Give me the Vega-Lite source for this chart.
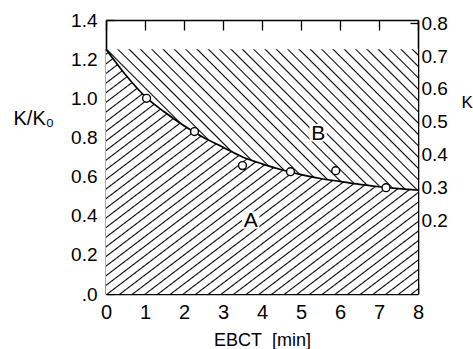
{
  "$schema": "https://vega.github.io/schema/vega-lite/v6.json",
  "width": 312,
  "height": 274,
  "autosize": {"type": "none"},
  "padding": {"left": 106, "top": 20, "right": 55, "bottom": 55},
  "background": "white",
  "config": {
    "view": {"stroke": null},
    "axis": {
      "grid": false,
      "domainColor": "black",
      "domainWidth": 1.6,
      "tickColor": "black",
      "tickWidth": 1.3,
      "labelColor": "black",
      "titleColor": "black",
      "labelFont": "Liberation Sans",
      "titleFont": "Liberation Sans",
      "labelFontSize": 19,
      "titleFontSize": 18,
      "titleFontWeight": "normal",
      "zindex": 1
    }
  },
  "datasets": {
    "curve": [
      {"t": 0, "k": 1.25}, {"t": 0.5, "k": 1.12}, {"t": 1, "k": 1.01}, {"t": 1.5, "k": 0.93},
      {"t": 2, "k": 0.86}, {"t": 2.5, "k": 0.8}, {"t": 3, "k": 0.75}, {"t": 3.5, "k": 0.7},
      {"t": 4, "k": 0.665}, {"t": 4.5, "k": 0.635}, {"t": 5, "k": 0.61}, {"t": 5.5, "k": 0.59},
      {"t": 6, "k": 0.575}, {"t": 6.5, "k": 0.56}, {"t": 7, "k": 0.548}, {"t": 7.5, "k": 0.538},
      {"t": 8, "k": 0.53}
    ],
    "pts": [
      {"t": 1.04, "k": 1.0}, {"t": 2.27, "k": 0.83}, {"t": 3.5, "k": 0.656},
      {"t": 4.73, "k": 0.625}, {"t": 5.89, "k": 0.63}, {"t": 7.18, "k": 0.543}
    ],
    "labels": [
      {"t": 3.71, "k": 0.378, "label": "A"},
      {"t": 5.44, "k": 0.824, "label": "B"}
    ]
  },
  "resolve": {"scale": {"x": "independent", "y": "independent"}, "axis": {"x": "independent", "y": "independent"}},
  "layer": [
    {
      "data": {"name": "curve"},
      "mark": {
        "type": "area",
        "interpolate": "monotone",
        "stroke": null,
        "fill": {
          "gradient": "linear", "x1": 0, "y1": 0, "x2": 0.984, "y2": 1.015,
          "stops": [
            {"offset":0.0072,"color":"#fff"},{"offset":0.01,"color":"#000"},{"offset":0.0128,"color":"#fff"},
            {"offset":0.0272,"color":"#fff"},{"offset":0.03,"color":"#000"},{"offset":0.0328,"color":"#fff"},
            {"offset":0.0472,"color":"#fff"},{"offset":0.05,"color":"#000"},{"offset":0.0528,"color":"#fff"},
            {"offset":0.0672,"color":"#fff"},{"offset":0.07,"color":"#000"},{"offset":0.0728,"color":"#fff"},
            {"offset":0.0872,"color":"#fff"},{"offset":0.09,"color":"#000"},{"offset":0.0928,"color":"#fff"},
            {"offset":0.1072,"color":"#fff"},{"offset":0.11,"color":"#000"},{"offset":0.1128,"color":"#fff"},
            {"offset":0.1272,"color":"#fff"},{"offset":0.13,"color":"#000"},{"offset":0.1328,"color":"#fff"},
            {"offset":0.1472,"color":"#fff"},{"offset":0.15,"color":"#000"},{"offset":0.1528,"color":"#fff"},
            {"offset":0.1672,"color":"#fff"},{"offset":0.17,"color":"#000"},{"offset":0.1728,"color":"#fff"},
            {"offset":0.1872,"color":"#fff"},{"offset":0.19,"color":"#000"},{"offset":0.1928,"color":"#fff"},
            {"offset":0.2072,"color":"#fff"},{"offset":0.21,"color":"#000"},{"offset":0.2128,"color":"#fff"},
            {"offset":0.2272,"color":"#fff"},{"offset":0.23,"color":"#000"},{"offset":0.2328,"color":"#fff"},
            {"offset":0.2472,"color":"#fff"},{"offset":0.25,"color":"#000"},{"offset":0.2528,"color":"#fff"},
            {"offset":0.2672,"color":"#fff"},{"offset":0.27,"color":"#000"},{"offset":0.2728,"color":"#fff"},
            {"offset":0.2872,"color":"#fff"},{"offset":0.29,"color":"#000"},{"offset":0.2928,"color":"#fff"},
            {"offset":0.3072,"color":"#fff"},{"offset":0.31,"color":"#000"},{"offset":0.3128,"color":"#fff"},
            {"offset":0.3272,"color":"#fff"},{"offset":0.33,"color":"#000"},{"offset":0.3328,"color":"#fff"},
            {"offset":0.3472,"color":"#fff"},{"offset":0.35,"color":"#000"},{"offset":0.3528,"color":"#fff"},
            {"offset":0.3672,"color":"#fff"},{"offset":0.37,"color":"#000"},{"offset":0.3728,"color":"#fff"},
            {"offset":0.3872,"color":"#fff"},{"offset":0.39,"color":"#000"},{"offset":0.3928,"color":"#fff"},
            {"offset":0.4072,"color":"#fff"},{"offset":0.41,"color":"#000"},{"offset":0.4128,"color":"#fff"},
            {"offset":0.4272,"color":"#fff"},{"offset":0.43,"color":"#000"},{"offset":0.4328,"color":"#fff"},
            {"offset":0.4472,"color":"#fff"},{"offset":0.45,"color":"#000"},{"offset":0.4528,"color":"#fff"},
            {"offset":0.4672,"color":"#fff"},{"offset":0.47,"color":"#000"},{"offset":0.4728,"color":"#fff"},
            {"offset":0.4872,"color":"#fff"},{"offset":0.49,"color":"#000"},{"offset":0.4928,"color":"#fff"},
            {"offset":0.5072,"color":"#fff"},{"offset":0.51,"color":"#000"},{"offset":0.5128,"color":"#fff"},
            {"offset":0.5272,"color":"#fff"},{"offset":0.53,"color":"#000"},{"offset":0.5328,"color":"#fff"},
            {"offset":0.5472,"color":"#fff"},{"offset":0.55,"color":"#000"},{"offset":0.5528,"color":"#fff"},
            {"offset":0.5672,"color":"#fff"},{"offset":0.57,"color":"#000"},{"offset":0.5728,"color":"#fff"},
            {"offset":0.5872,"color":"#fff"},{"offset":0.59,"color":"#000"},{"offset":0.5928,"color":"#fff"},
            {"offset":0.6072,"color":"#fff"},{"offset":0.61,"color":"#000"},{"offset":0.6128,"color":"#fff"},
            {"offset":0.6272,"color":"#fff"},{"offset":0.63,"color":"#000"},{"offset":0.6328,"color":"#fff"},
            {"offset":0.6472,"color":"#fff"},{"offset":0.65,"color":"#000"},{"offset":0.6528,"color":"#fff"},
            {"offset":0.6672,"color":"#fff"},{"offset":0.67,"color":"#000"},{"offset":0.6728,"color":"#fff"},
            {"offset":0.6872,"color":"#fff"},{"offset":0.69,"color":"#000"},{"offset":0.6928,"color":"#fff"},
            {"offset":0.7072,"color":"#fff"},{"offset":0.71,"color":"#000"},{"offset":0.7128,"color":"#fff"},
            {"offset":0.7272,"color":"#fff"},{"offset":0.73,"color":"#000"},{"offset":0.7328,"color":"#fff"},
            {"offset":0.7472,"color":"#fff"},{"offset":0.75,"color":"#000"},{"offset":0.7528,"color":"#fff"},
            {"offset":0.7672,"color":"#fff"},{"offset":0.77,"color":"#000"},{"offset":0.7728,"color":"#fff"},
            {"offset":0.7872,"color":"#fff"},{"offset":0.79,"color":"#000"},{"offset":0.7928,"color":"#fff"},
            {"offset":0.8072,"color":"#fff"},{"offset":0.81,"color":"#000"},{"offset":0.8128,"color":"#fff"},
            {"offset":0.8272,"color":"#fff"},{"offset":0.83,"color":"#000"},{"offset":0.8328,"color":"#fff"},
            {"offset":0.8472,"color":"#fff"},{"offset":0.85,"color":"#000"},{"offset":0.8528,"color":"#fff"},
            {"offset":0.8672,"color":"#fff"},{"offset":0.87,"color":"#000"},{"offset":0.8728,"color":"#fff"},
            {"offset":0.8872,"color":"#fff"},{"offset":0.89,"color":"#000"},{"offset":0.8928,"color":"#fff"},
            {"offset":0.9072,"color":"#fff"},{"offset":0.91,"color":"#000"},{"offset":0.9128,"color":"#fff"},
            {"offset":0.9272,"color":"#fff"},{"offset":0.93,"color":"#000"},{"offset":0.9328,"color":"#fff"},
            {"offset":0.9472,"color":"#fff"},{"offset":0.95,"color":"#000"},{"offset":0.9528,"color":"#fff"},
            {"offset":0.9672,"color":"#fff"},{"offset":0.97,"color":"#000"},{"offset":0.9728,"color":"#fff"},
            {"offset":0.9872,"color":"#fff"},{"offset":0.99,"color":"#000"},{"offset":0.9928,"color":"#fff"}
          ]
        }
      },
      "encoding": {
        "x": {"field": "t", "type": "quantitative", "scale": {"domain": [0, 8], "nice": false, "zero": false},
          "axis": {"orient": "bottom", "values": [0,1,2,3,4,5,6,7,8], "tickSize": -10, "labelPadding": 18, "labelFontSize": 20, "labelFlush": false, "title": "EBCT\u00a0\u00a0[min]", "titlePadding": 9, "titleFontSize": 18}},
        "y": {"field": "k", "type": "quantitative", "scale": {"domain": [0, 1.4], "nice": false, "zero": false},
          "axis": {"orient": "left", "values": [0,0.2,0.4,0.6,0.8,1.0,1.2,1.4], "tickSize": -8, "labelPadding": 17, "labelFlush": false,
            "labelExpr": "datum.value == 0 ? '.0' : format(datum.value, '.1f')",
            "title": "K/K₀", "titleFontSize": 20, "titleAngle": 0, "titleX": -93, "titleY": 98, "titleAlign": "left", "titleBaseline": "middle"}},
        "y2": {"datum": 0}
      }
    },
    {
      "data": {"name": "curve"},
      "mark": {
        "type": "area",
        "interpolate": "monotone",
        "stroke": null,
        "fill": {
          "gradient": "linear", "x1": 0, "y1": 1, "x2": 1.206, "y2": 0.455,
          "stops": [
            {"offset":0.0092,"color":"#fff"},{"offset":0.0125,"color":"#000"},{"offset":0.0158,"color":"#fff"},
            {"offset":0.0342,"color":"#fff"},{"offset":0.0375,"color":"#000"},{"offset":0.0408,"color":"#fff"},
            {"offset":0.0592,"color":"#fff"},{"offset":0.0625,"color":"#000"},{"offset":0.0658,"color":"#fff"},
            {"offset":0.0842,"color":"#fff"},{"offset":0.0875,"color":"#000"},{"offset":0.0908,"color":"#fff"},
            {"offset":0.1092,"color":"#fff"},{"offset":0.1125,"color":"#000"},{"offset":0.1158,"color":"#fff"},
            {"offset":0.1342,"color":"#fff"},{"offset":0.1375,"color":"#000"},{"offset":0.1408,"color":"#fff"},
            {"offset":0.1592,"color":"#fff"},{"offset":0.1625,"color":"#000"},{"offset":0.1658,"color":"#fff"},
            {"offset":0.1842,"color":"#fff"},{"offset":0.1875,"color":"#000"},{"offset":0.1908,"color":"#fff"},
            {"offset":0.2092,"color":"#fff"},{"offset":0.2125,"color":"#000"},{"offset":0.2158,"color":"#fff"},
            {"offset":0.2342,"color":"#fff"},{"offset":0.2375,"color":"#000"},{"offset":0.2408,"color":"#fff"},
            {"offset":0.2592,"color":"#fff"},{"offset":0.2625,"color":"#000"},{"offset":0.2658,"color":"#fff"},
            {"offset":0.2842,"color":"#fff"},{"offset":0.2875,"color":"#000"},{"offset":0.2908,"color":"#fff"},
            {"offset":0.3092,"color":"#fff"},{"offset":0.3125,"color":"#000"},{"offset":0.3158,"color":"#fff"},
            {"offset":0.3342,"color":"#fff"},{"offset":0.3375,"color":"#000"},{"offset":0.3408,"color":"#fff"},
            {"offset":0.3592,"color":"#fff"},{"offset":0.3625,"color":"#000"},{"offset":0.3658,"color":"#fff"},
            {"offset":0.3842,"color":"#fff"},{"offset":0.3875,"color":"#000"},{"offset":0.3908,"color":"#fff"},
            {"offset":0.4092,"color":"#fff"},{"offset":0.4125,"color":"#000"},{"offset":0.4158,"color":"#fff"},
            {"offset":0.4342,"color":"#fff"},{"offset":0.4375,"color":"#000"},{"offset":0.4408,"color":"#fff"},
            {"offset":0.4592,"color":"#fff"},{"offset":0.4625,"color":"#000"},{"offset":0.4658,"color":"#fff"},
            {"offset":0.4842,"color":"#fff"},{"offset":0.4875,"color":"#000"},{"offset":0.4908,"color":"#fff"},
            {"offset":0.5092,"color":"#fff"},{"offset":0.5125,"color":"#000"},{"offset":0.5158,"color":"#fff"},
            {"offset":0.5342,"color":"#fff"},{"offset":0.5375,"color":"#000"},{"offset":0.5408,"color":"#fff"},
            {"offset":0.5592,"color":"#fff"},{"offset":0.5625,"color":"#000"},{"offset":0.5658,"color":"#fff"},
            {"offset":0.5842,"color":"#fff"},{"offset":0.5875,"color":"#000"},{"offset":0.5908,"color":"#fff"},
            {"offset":0.6092,"color":"#fff"},{"offset":0.6125,"color":"#000"},{"offset":0.6158,"color":"#fff"},
            {"offset":0.6342,"color":"#fff"},{"offset":0.6375,"color":"#000"},{"offset":0.6408,"color":"#fff"},
            {"offset":0.6592,"color":"#fff"},{"offset":0.6625,"color":"#000"},{"offset":0.6658,"color":"#fff"},
            {"offset":0.6842,"color":"#fff"},{"offset":0.6875,"color":"#000"},{"offset":0.6908,"color":"#fff"},
            {"offset":0.7092,"color":"#fff"},{"offset":0.7125,"color":"#000"},{"offset":0.7158,"color":"#fff"},
            {"offset":0.7342,"color":"#fff"},{"offset":0.7375,"color":"#000"},{"offset":0.7408,"color":"#fff"},
            {"offset":0.7592,"color":"#fff"},{"offset":0.7625,"color":"#000"},{"offset":0.7658,"color":"#fff"},
            {"offset":0.7842,"color":"#fff"},{"offset":0.7875,"color":"#000"},{"offset":0.7908,"color":"#fff"},
            {"offset":0.8092,"color":"#fff"},{"offset":0.8125,"color":"#000"},{"offset":0.8158,"color":"#fff"},
            {"offset":0.8342,"color":"#fff"},{"offset":0.8375,"color":"#000"},{"offset":0.8408,"color":"#fff"},
            {"offset":0.8592,"color":"#fff"},{"offset":0.8625,"color":"#000"},{"offset":0.8658,"color":"#fff"},
            {"offset":0.8842,"color":"#fff"},{"offset":0.8875,"color":"#000"},{"offset":0.8908,"color":"#fff"},
            {"offset":0.9092,"color":"#fff"},{"offset":0.9125,"color":"#000"},{"offset":0.9158,"color":"#fff"},
            {"offset":0.9342,"color":"#fff"},{"offset":0.9375,"color":"#000"},{"offset":0.9408,"color":"#fff"},
            {"offset":0.9592,"color":"#fff"},{"offset":0.9625,"color":"#000"},{"offset":0.9658,"color":"#fff"},
            {"offset":0.9842,"color":"#fff"},{"offset":0.9875,"color":"#000"},{"offset":0.9908,"color":"#fff"}
          ]
        }
      },
      "encoding": {
        "x": {"field": "t", "type": "quantitative", "scale": {"domain": [0, 8], "nice": false, "zero": false}, "axis": null},
        "y": {"field": "k", "type": "quantitative", "scale": {"domain": [0, 1.4], "nice": false, "zero": false}, "axis": null},
        "y2": {"datum": 1.25}
      }
    },
    {
      "mark": {"type": "rule", "color": "black", "strokeWidth": 1.5, "strokeDash": [12, 6]},
      "encoding": {
        "y": {"datum": 1.25, "type": "quantitative", "scale": {"domain": [0, 1.4], "nice": false, "zero": false}, "axis": null}
      }
    },
    {
      "data": {"name": "curve"},
      "mark": {"type": "line", "interpolate": "monotone", "color": "black", "strokeWidth": 1.7},
      "encoding": {
        "x": {"field": "t", "type": "quantitative", "scale": {"domain": [0, 8], "nice": false, "zero": false}, "axis": null},
        "y": {"field": "k", "type": "quantitative", "scale": {"domain": [0, 1.4], "nice": false, "zero": false}, "axis": null}
      }
    },
    {
      "data": {"name": "pts"},
      "mark": {"type": "point", "shape": "circle", "filled": true, "fill": "white", "stroke": "black", "strokeWidth": 1.4, "size": 62, "opacity": 1},
      "encoding": {
        "x": {"field": "t", "type": "quantitative", "scale": {"domain": [0, 8], "nice": false, "zero": false}, "axis": null},
        "y": {"field": "k", "type": "quantitative", "scale": {"domain": [0, 1.4], "nice": false, "zero": false}, "axis": null}
      }
    },
    {
      "data": {"name": "labels"},
      "mark": {"type": "point", "shape": "square", "filled": true, "color": "white", "size": 300, "opacity": 1},
      "encoding": {
        "x": {"field": "t", "type": "quantitative", "scale": {"domain": [0, 8], "nice": false, "zero": false}, "axis": null},
        "y": {"field": "k", "type": "quantitative", "scale": {"domain": [0, 1.4], "nice": false, "zero": false}, "axis": null}
      }
    },
    {
      "data": {"name": "labels"},
      "mark": {"type": "text", "font": "Liberation Sans", "fontSize": 21, "color": "black", "baseline": "middle", "align": "center", "dy": 1},
      "encoding": {
        "x": {"field": "t", "type": "quantitative", "scale": {"domain": [0, 8], "nice": false, "zero": false}, "axis": null},
        "y": {"field": "k", "type": "quantitative", "scale": {"domain": [0, 1.4], "nice": false, "zero": false}, "axis": null},
        "text": {"field": "label"}
      }
    },
    {
      "mark": {"type": "rule", "opacity": 0},
      "encoding": {
        "x": {"datum": 4, "type": "quantitative", "scale": {"domain": [0, 8], "nice": false, "zero": false},
          "axis": {"orient": "top", "values": [0,1,2,3,4,5,6,7,8], "tickSize": -10, "labels": false, "title": null}}
      }
    },
    {
      "mark": {"type": "rule", "opacity": 0},
      "encoding": {
        "y": {"datum": 0.5, "type": "quantitative", "scale": {"domain": [-0.025, 0.81], "nice": false, "zero": false},
          "axis": {"orient": "right", "values": [0.2,0.3,0.4,0.5,0.6,0.7,0.8], "tickSize": -8, "labelPadding": 11, "labelFlush": false,
            "format": ".1f", "title": "K", "titleFontSize": 17, "titleAngle": 0, "titleX": 43, "titleY": 82, "titleAlign": "left", "titleBaseline": "middle"}}
      }
    }
  ]
}
